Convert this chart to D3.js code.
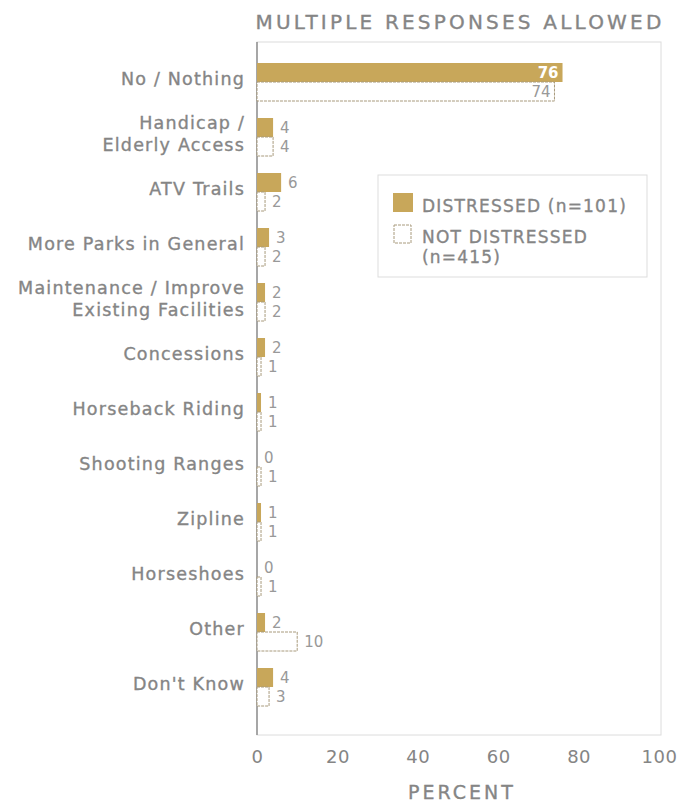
<!DOCTYPE html>
<html><head><meta charset="utf-8">
<script src="https://cdn.jsdelivr.net/npm/d3@7"></script>
<style>
body{margin:0;background:#fff;}
text{font-family:"DejaVu Sans",sans-serif;}
.heavy{stroke:#858585;stroke-width:0.35px;}
</style></head>
<body><svg id="c" width="691" height="804"></svg>
<script>
const categories = ["No / Nothing","Handicap / Elderly Access","ATV Trails","More Parks in General","Maintenance / Improve Existing Facilities","Concessions","Horseback Riding","Shooting Ranges","Zipline","Horseshoes","Other","Don't Know"];
const labelLines = [["No / Nothing"],["Handicap /","Elderly Access"],["ATV Trails"],["More Parks in General"],["Maintenance / Improve","Existing Facilities"],["Concessions"],["Horseback Riding"],["Shooting Ranges"],["Zipline"],["Horseshoes"],["Other"],["Don't Know"]];
const distressed = [76,4,6,3,2,2,1,0,1,0,2,4];
const notDistressed = [74,4,2,2,2,1,1,1,1,1,10,3];
const xTicks = [0,20,40,60,80,100];
const seriesNames = ["DISTRESSED (n=101)","NOT DISTRESSED","(n=415)"];

const svg = d3.select("#c");
const gold = "#c8a75a", grey = "#858585";
const x = d3.scaleLinear().domain([0,100]).range([257,659]);
const y = d3.scaleBand().domain(categories).range([54.5,714.5]);
const bh = 19;

// frame
svg.append("rect").attr("x",257).attr("y",42).attr("width",404).attr("height",693)
  .attr("fill","none").attr("stroke","#dcdcdc").attr("stroke-width",1);
svg.append("line").attr("x1",257).attr("x2",257).attr("y1",42).attr("y2",735)
  .attr("stroke","#777").attr("stroke-width",1.2);

// title
svg.append("text").attr("class","heavy").attr("x",460).attr("y",29).attr("text-anchor","middle")
  .attr("fill",grey).attr("font-size",20).attr("letter-spacing",3.2)
  .text("MULTIPLE RESPONSES ALLOWED");

const g = svg.append("g");
categories.forEach((c,i)=>{
  const cy = y(c) + y.bandwidth()/2;
  g.append("rect").attr("x",x(0)).attr("y",cy-bh).attr("width",x(distressed[i])-x(0)).attr("height",bh)
    .attr("fill",gold);
  g.append("rect").attr("x",x(0)).attr("y",cy).attr("width",x(notDistressed[i])-x(0)).attr("height",bh)
    .attr("fill","#fff").attr("stroke","#a89a7c").attr("stroke-width",1).attr("stroke-dasharray","3,1");
  const inside = distressed[i] > 50;
  g.append("text").attr("x", inside ? x(distressed[i])-4 : x(distressed[i])+7)
    .attr("y",cy-bh/2+5).attr("text-anchor", inside?"end":"start")
    .attr("font-size",15).attr("fill", inside?"#fff":"#999").attr("font-weight",inside?700:400)
    .text(distressed[i]);
  const inside2 = notDistressed[i] > 50;
  g.append("text").attr("x", inside2 ? x(notDistressed[i])-4 : x(notDistressed[i])+7)
    .attr("y",cy+bh/2+5).attr("text-anchor", inside2?"end":"start")
    .attr("font-size",15).attr("fill","#999")
    .text(notDistressed[i]);
  const lines = labelLines[i];
  const t = g.append("text").attr("class","heavy").attr("text-anchor","end").attr("fill",grey)
    .attr("font-size",17.5).attr("letter-spacing",1.2);
  lines.forEach((l,j)=>{
    t.append("tspan").attr("x",245).attr("y", cy + 4 + (j - (lines.length-1)/2)*22 - 1).text(l);
  });
});

const ax = svg.append("g").attr("transform","translate(0,735)")
  .call(d3.axisBottom(x).tickValues(xTicks).tickSize(0).tickPadding(15));
ax.select(".domain").remove();
ax.selectAll("text").attr("font-size",18).attr("fill",grey).attr("font-family","DejaVu Sans, sans-serif").attr("letter-spacing",0.5);
svg.append("text").attr("class","heavy").attr("x",462).attr("y",799).attr("text-anchor","middle")
  .attr("fill",grey).attr("font-size",19).attr("letter-spacing",3).text("PERCENT");

const lg = svg.append("g");
lg.append("rect").attr("x",378).attr("y",175).attr("width",269).attr("height",102)
  .attr("fill","#fff").attr("stroke","#ddd");
lg.append("rect").attr("x",393).attr("y",193).attr("width",20).attr("height",19).attr("fill",gold);
lg.append("rect").attr("x",394).attr("y",225).attr("width",17).attr("height",18).attr("fill","#fff")
  .attr("stroke","#a89a7c").attr("stroke-dasharray","3,1");
[[seriesNames[0],212],[seriesNames[1],243],[seriesNames[2],263]].forEach(([s,yy])=>{
  lg.append("text").attr("class","heavy").attr("x",422).attr("y",yy).attr("fill",grey)
    .attr("font-size",17).attr("letter-spacing",1.2).text(s);
});
</script></body></html>
